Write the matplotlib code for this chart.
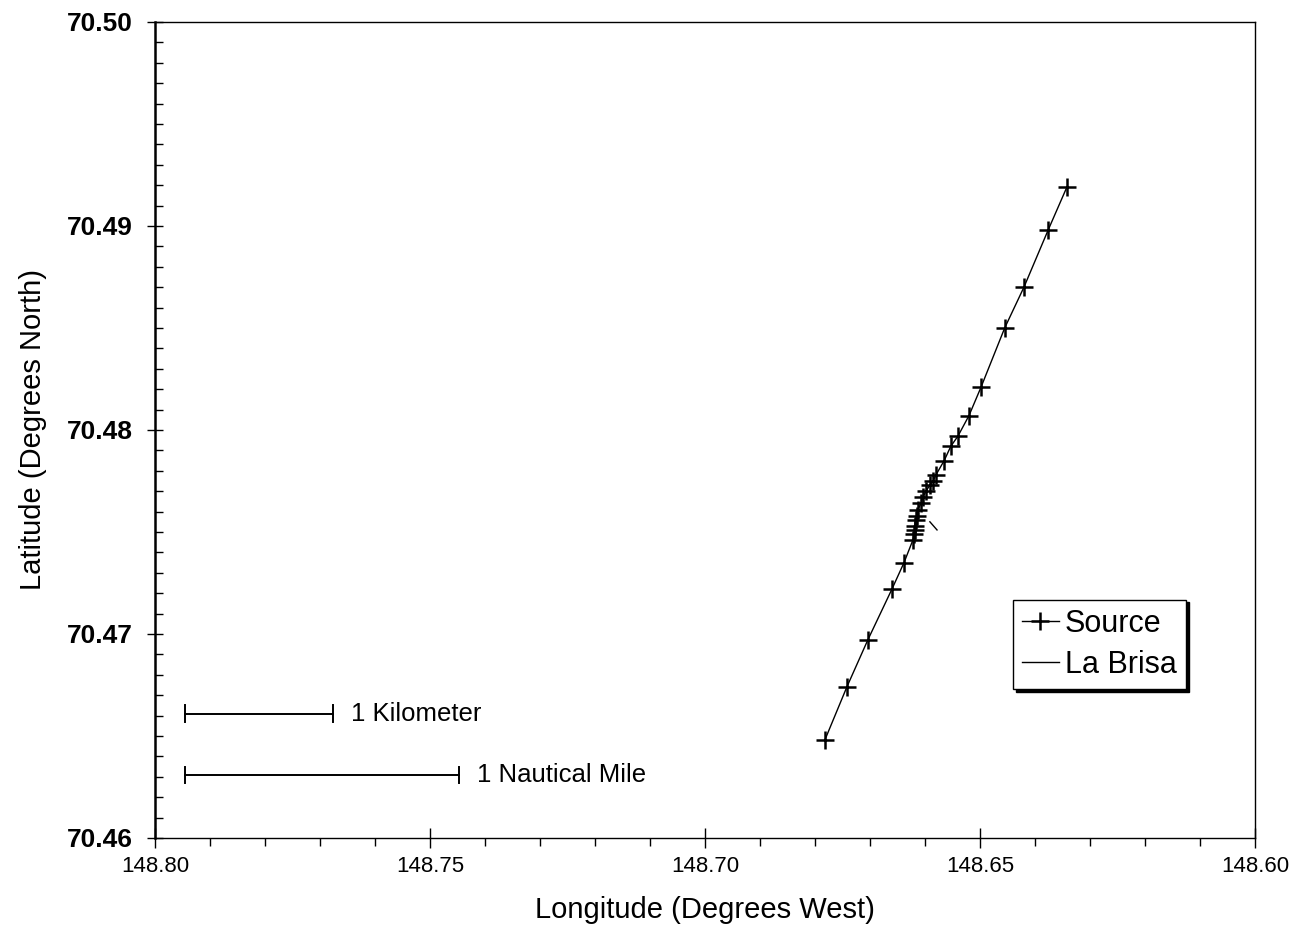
import matplotlib.pyplot as plt
from matplotlib.ticker import MultipleLocator, FormatStrFormatter

plt.rcParams['font.family'] = ['Liberation Sans', 'DejaVu Sans']

# source track (degrees west, degrees north)
source_lon = [148.6782, 148.6742, 148.6704, 148.6660, 148.6638, 148.6622,
              148.6620, 148.6618, 148.6618, 148.6616, 148.6615, 148.6613,
              148.6607, 148.6604, 148.6598, 148.6591, 148.6585, 148.6580,
              148.6565, 148.6553, 148.6540, 148.6520, 148.6498, 148.6455,
              148.6420, 148.6376, 148.6342]
source_lat = [70.4648, 70.4674, 70.4697, 70.4722, 70.4735, 70.4746,
              70.4749, 70.4751, 70.4753, 70.4756, 70.4758, 70.4761,
              70.4764, 70.4767, 70.4770, 70.4773, 70.4775, 70.4778,
              70.4785, 70.4792, 70.4797, 70.4807, 70.4821, 70.4850,
              70.4870, 70.4898, 70.4919]

# La Brisa (only a short piece shows)
brisa_lon = [148.6591, 148.6578]
brisa_lat = [70.4755, 70.4751]

# scale bars
bar_labels = ['1 Kilometer', '1 Nautical Mile']
bar_start = 148.7945
bar_lengths = [0.0269, 0.0498]
bar_lat = [70.4661, 70.4631]

fig = plt.figure(figsize=(13.12, 9.44), dpi=100)
ax = fig.add_axes([0.1181, 0.1123, 0.8384, 0.8644])

ax.plot(source_lon, source_lat, color='black', lw=1, marker='+',
        markersize=13, markeredgewidth=1.8, label='Source')
ax.plot(brisa_lon, brisa_lat, color='black', lw=1, label='La Brisa')

for lab, length, lat in zip(bar_labels, bar_lengths, bar_lat):
    x0, x1 = bar_start, bar_start - length
    ax.plot([x0, x1], [lat, lat], color='black', lw=1.4)
    ax.plot([x0, x0], [lat - 0.0004, lat + 0.0004], color='black', lw=1.4)
    ax.plot([x1, x1], [lat - 0.0004, lat + 0.0004], color='black', lw=1.4)
    ax.text(x1 - 0.0033, lat, lab, fontsize=18.5, va='center', ha='left')

ax.set_xlim(148.80, 148.60)
ax.set_ylim(70.46, 70.50)

ax.xaxis.set_major_locator(MultipleLocator(0.05))
ax.xaxis.set_minor_locator(MultipleLocator(0.01))
ax.yaxis.set_major_locator(MultipleLocator(0.01))
ax.yaxis.set_minor_locator(MultipleLocator(0.001))
ax.xaxis.set_major_formatter(FormatStrFormatter('%.2f'))
ax.yaxis.set_major_formatter(FormatStrFormatter('%.2f'))

ax.tick_params(axis='x', which='major', direction='inout', length=14, width=1,
               labelsize=16, pad=6)
ax.tick_params(axis='x', which='minor', direction='out', length=6, width=1)
ax.tick_params(axis='y', which='major', direction='inout', length=12, width=1,
               labelsize=19, pad=10)
ax.tick_params(axis='y', which='minor', direction='in', length=6, width=1)
for t in ax.get_yticklabels():
    t.set_fontweight('bold')

for s in ax.spines.values():
    s.set_linewidth(1)
ax.spines['left'].set_linewidth(1.8)

ax.set_xlabel('Longitude (Degrees West)', fontsize=21, labelpad=14)
ax.set_ylabel('Latitude (Degrees North)', fontsize=21, labelpad=14)

leg = ax.legend(loc='upper left', bbox_to_anchor=(0.78, 0.292), fontsize=22,
                frameon=True, fancybox=False, shadow={'color': 'black', 'alpha': 1},
                edgecolor='black', handlelength=1.2, handletextpad=0.2,
                borderpad=0.3, labelspacing=0.35, borderaxespad=0)
leg.get_frame().set_linewidth(1)

fig.savefig('out.png', dpi=100)
